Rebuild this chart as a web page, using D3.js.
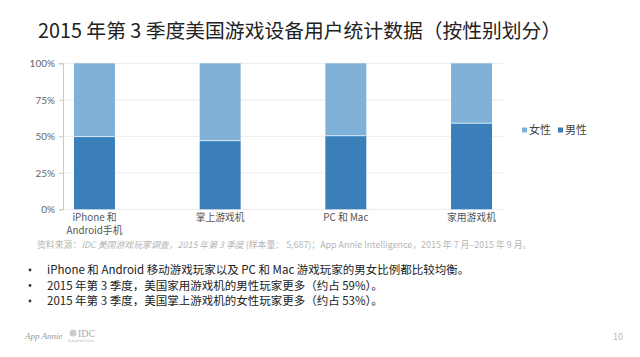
<!DOCTYPE html>
<html><head><meta charset="utf-8">
<script src="https://cdn.jsdelivr.net/npm/d3@7"></script>
<style>
body{margin:0;background:#fff;}
svg{display:block;font-family:"Noto Sans CJK SC","Noto Sans",sans-serif;}
</style></head>
<body>
<script>
const categories = ["iPhone 和\nAndroid手机", "掌上游戏机", "PC 和 Mac", "家用游戏机"];
const male = [49.8, 47, 50.4, 59];
const female = [50.2, 53, 49.6, 41];
const yTicks = [0, 25, 50, 75, 100];
const seriesNames = ["女性", "男性"];
const bullets = [
  "iPhone 和 Android 移动游戏玩家以及 PC 和 Mac 游戏玩家的男女比例都比较均衡。",
  "2015 年第 3 季度，美国家用游戏机的男性玩家更多（约占 59%）。",
  "2015 年第 3 季度，美国掌上游戏机的女性玩家更多（约占 53%）。"
];

const W = 640, H = 357;
const svg = d3.select("body").append("svg").attr("width", W).attr("height", H);
const colF = "#80b2d9", colM = "#3a7eba";

svg.append("text").attr("x", 38).attr("y", 38).attr("font-size", 19.8).attr("fill", "#222")
  .text("2015 年第 3 季度美国游戏设备用户统计数据（按性别划分）");

const x = d3.scaleBand().domain(categories).range([63, 503]).paddingInner(0.674).paddingOuter(0.0875);
const y = d3.scaleLinear().domain([0, 100]).range([209.3, 63.3]);

// gridlines
svg.append("g").selectAll("line").data(yTicks).join("line")
  .attr("x1", 63).attr("x2", 503).attr("y1", d => y(d)).attr("y2", d => y(d))
  .attr("stroke", "#ececec").attr("stroke-width", 1);

// y axis
const yAxis = svg.append("g").attr("transform", "translate(63,0)")
  .call(d3.axisLeft(y).tickValues(yTicks).tickFormat(d => d + "%").tickSize(4).tickPadding(4));
yAxis.select(".domain").attr("stroke", "#c8c8c8");
yAxis.selectAll(".tick line").attr("stroke", "#c8c8c8");
yAxis.selectAll("text").attr("font-size", 10).attr("fill", "#666").attr("font-family", "Lato, 'Noto Sans CJK SC', sans-serif");

// bars
const g = svg.append("g");
g.selectAll(".m").data(categories).join("rect")
  .attr("x", d => x(d)).attr("width", x.bandwidth())
  .attr("y", (d, i) => y(male[i])).attr("height", (d, i) => y(0) - y(male[i]))
  .attr("fill", colM);
g.selectAll(".f").data(categories).join("rect")
  .attr("x", d => x(d)).attr("width", x.bandwidth())
  .attr("y", (d, i) => y(male[i] + female[i])).attr("height", (d, i) => y(male[i]) - y(male[i] + female[i]))
  .attr("fill", colF);
g.selectAll(".sep").data(categories).join("line")
  .attr("x1", d => x(d)).attr("x2", d => x(d) + x.bandwidth())
  .attr("y1", (d, i) => y(male[i])).attr("y2", (d, i) => y(male[i]))
  .attr("stroke", "#d6e8f5").attr("stroke-width", 1);

// category labels
categories.forEach((c, i) => {
  const lines = c.split("\n");
  const t = svg.append("text").attr("text-anchor", "middle").attr("font-size", 9.8).attr("fill", "#555");
  lines.forEach((l, j) => t.append("tspan").attr("x", x(c) + x.bandwidth() / 2).attr("y", 220.5 + j * 13.5).text(l));
});

// legend
const legX = [522, 558];
seriesNames.forEach((s, i) => {
  svg.append("rect").attr("x", legX[i]).attr("y", 127.5).attr("width", 5).attr("height", 5).attr("fill", i === 0 ? colF : colM);
  svg.append("text").attr("x", legX[i] + 7).attr("y", 134).attr("font-size", 11).attr("fill", "#444").text(s);
});

// source
const src = svg.append("text").attr("x", 37).attr("y", 248).attr("font-size", 8.9).attr("fill", "#b5b5b5");
src.append("tspan").text("资料来源：");
src.append("tspan").attr("font-style", "italic").text("IDC 美国游戏玩家调查，2015 年第 3 季度");
src.append("tspan").text(" (样本量： 5,687)；App Annie Intelligence，2015 年 7 月–2015 年 9 月。");

// bullets
bullets.forEach((b, i) => {
  const yy = 274 + i * 15.5;
  svg.append("circle").attr("cx", 30).attr("cy", yy - 4).attr("r", 1.4).attr("fill", "#333");
  svg.append("text").attr("x", 47).attr("y", yy).attr("font-size", 11.5).attr("fill", "#222").text(b);
});

// footer
svg.append("text").attr("x", 25).attr("y", 339).attr("font-size", 9).attr("font-style", "italic").attr("fill", "#999").attr("font-family", "'Liberation Serif', serif").text("App Annie");
svg.append("circle").attr("cx", 73).attr("cy", 333).attr("r", 3.5).attr("fill", "#ccc");
svg.append("text").attr("x", 78).attr("y", 337).attr("font-size", 10).attr("fill", "#aaa").attr("font-family", "'Liberation Serif', serif").text("IDC");
svg.append("text").attr("x", 68).attr("y", 342).attr("font-size", 3).attr("fill", "#bbb").text("Analyze the Future");
svg.append("text").attr("x", 613).attr("y", 340).attr("font-size", 9).attr("fill", "#bbb").text("10");
</script>
</body></html>
